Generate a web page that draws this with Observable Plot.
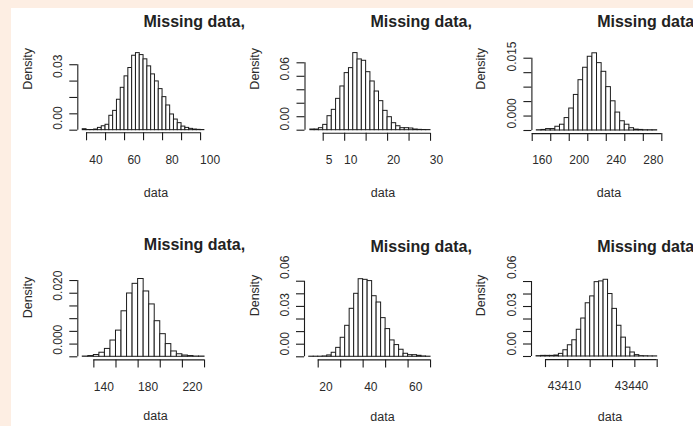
<!DOCTYPE html>
<html><head><meta charset="utf-8">
<script src="https://cdn.jsdelivr.net/npm/d3@7"></script>
<script src="https://cdn.jsdelivr.net/npm/@observablehq/plot@0.6"></script>
<style>
html,body{margin:0;padding:0;background:#fdeee3;}
#wrap{position:relative;width:693px;height:426px;background:#fdeee3;overflow:hidden;}
#inner{position:absolute;left:11px;top:8px;right:0;bottom:0;background:#ffffff;}
#wrap svg{position:absolute;left:0;top:0;}
</style></head><body><div id="wrap"><div id="inner"></div></div>
<script>
// ---- data ----
const panelTitle = "Missing data,";
const xAxisTitle = "data";
const yAxisTitle = "Density";

// histogram bin lower edges and bin widths
const p1Width = 2, p1Lower = d3.range(38, 102, p1Width);
const p2Width = 1, p2Lower = d3.range(2, 30, p2Width);
const p3Width = 5, p3Lower = d3.range(165, 295, p3Width);
const p4Width = 5, p4Lower = d3.range(130, 240, p4Width);
const p5Width = 2, p5Lower = d3.range(16, 70, p5Width);
const p6Width = 2, p6Lower = d3.range(43396, 43450, p6Width);

// densities
const p1Density = [0.0006,0.0001,0.0001,0.0004,0.0014,0.0024,0.0033,0.0088,0.0118,0.0186,0.0259,0.0329,0.0380,0.0455,0.0471,0.0459,0.0433,0.0390,0.0341,0.0298,0.0251,0.0202,0.0151,0.0096,0.0065,0.0043,0.0022,0.0014,0.0008,0.0004,0.0002,0.0001];
const p2Density = [0.0010,0.0010,0.0030,0.0079,0.0208,0.0302,0.0465,0.0649,0.0847,0.0921,0.1144,0.1050,0.1030,0.0861,0.0723,0.0574,0.0431,0.0287,0.0193,0.0104,0.0059,0.0030,0.0030,0.0025,0.0010,0.0005,0.0003,0.0002];
const p3Density = [0.0001,0.0002,0.0005,0.0005,0.0013,0.0020,0.0043,0.0076,0.0123,0.0174,0.0217,0.0255,0.0267,0.0233,0.0203,0.0150,0.0101,0.0062,0.0032,0.0020,0.0008,0.0003,0.0002,0.0001,0.0001,0.0001];
const p4Density = [0.0001,0.0003,0.0007,0.0016,0.0031,0.0064,0.0103,0.0179,0.0249,0.0287,0.0306,0.0257,0.0206,0.0140,0.0089,0.0050,0.0021,0.0010,0.0005,0.0003,0.0001,0.0001];
const p5Density = [0.0001,0.0001,0.0001,0.0003,0.0011,0.0032,0.0071,0.0151,0.0246,0.0381,0.0500,0.0616,0.0611,0.0601,0.0481,0.0431,0.0307,0.0220,0.0130,0.0093,0.0056,0.0024,0.0013,0.0013,0.0008,0.0003,0.0001];
const p6Density = [0.0003,0.0005,0.0005,0.0005,0.0008,0.0021,0.0050,0.0090,0.0130,0.0214,0.0304,0.0426,0.0481,0.0595,0.0601,0.0614,0.0500,0.0381,0.0246,0.0151,0.0071,0.0032,0.0011,0.0003,0.0002,0.0001,0.0001];

// axis ticks
const p1XTicks = [40,50,60,70,80,90,100], p1YTicks = [0,0.01,0.02,0.03,0.04];
const p2XTicks = [5,10,15,20,25,30], p2YTicks = [0,0.02,0.04,0.06,0.08,0.10];
const p3XTicks = [160,180,200,220,240,260,280,300], p3YTicks = [0,0.005,0.010,0.015,0.020,0.025];
const p4XTicks = [140,160,180,200,220,240], p4YTicks = [0,0.005,0.010,0.015,0.020,0.025,0.030];
const p5XTicks = [20,30,40,50,60,70], p5YTicks = [0,0.01,0.02,0.03,0.04,0.05,0.06];
const p6XTicks = [43400,43410,43420,43430,43440,43450], p6YTicks = [0,0.01,0.02,0.03,0.04,0.05,0.06];

// tick labels as printed
const p1XLabels = [40,60,80,100], p1YLabels = ["0.00","0.03"], p1YLabelAt = [0.0074,0.039];
const p2XLabels = [5,10,20,30], p2YLabels = ["0.00","0.06"], p2YLabelAt = [0.0169,0.091];
const p3XLabels = [160,200,240,280], p3YLabels = ["0.000","0.015"], p3YLabelAt = [0.0059,0.0256];
const p4XLabels = [140,180,220], p4YLabels = ["0.000","0.020"], p4YLabelAt = [0.0067,0.028];
const p5XLabels = [20,40,60], p5YLabels = ["0.00","0.03","0.06"], p5YLabelAt = [0.0103,0.0413,0.0711];
const p6XLabels = [43410,43440], p6YLabels = ["0.00","0.03","0.06"], p6YLabelAt = [0.0102,0.0414,0.0714];

// ---- layout (pixels) ----
const W = 693, H = 426;
const panels = [
  {lower:p1Lower, w:p1Width, dens:p1Density, xt:p1XTicks, yt:p1YTicks, xl:p1XLabels, yl:p1YLabels, yla:p1YLabelAt,
   xDom:[35.4,104.7], yDom:[-0.0016,0.0487], L:77.3, R:209, T:50, B:132.3, xlDx:9.5,
   title:[143,21], xt2:[155.5,192], yt2:[27.5,68.3]},
  {lower:p2Lower, w:p2Width, dens:p2Density, xt:p2XTicks, yt:p2YTicks, xl:p2XLabels, yl:p2YLabels, yla:p2YLabelAt,
   xDom:[0.76,31.16], yDom:[-0.0046,0.119], L:304.5, R:435, T:49.5, B:132.8, xlDx:6,
   title:[370,21], xt2:[382.5,192], yt2:[254,68.3]},
  {lower:p3Lower, w:p3Width, dens:p3Density, xt:p3XTicks, yt:p3YTicks, xl:p3XLabels, yl:p3YLabels, yla:p3YLabelAt,
   xDom:[159.66,300.2], yDom:[-0.00107,0.02777], L:531.4, R:661.5, T:49.7, B:133.1, xlDx:10,
   title:[596.7,21], xt2:[608.5,192], yt2:[480.5,68.3]},
  {lower:p4Lower, w:p4Width, dens:p4Density, xt:p4XTicks, yt:p4YTicks, xl:p4XLabels, yl:p4YLabels, yla:p4YLabelAt,
   xDom:[125.5,244.4], yDom:[-0.00122,0.03182], L:77.3, R:208.9, T:275.4, B:359.4, xlDx:10,
   title:[143.3,244], xt2:[155,415.5], yt2:[27.5,297]},
  {lower:p5Lower, w:p5Width, dens:p5Density, xt:p5XTicks, yt:p5YTicks, xl:p5XLabels, yl:p5YLabels, yla:p5YLabelAt,
   xDom:[13.9,72.16], yDom:[-0.00246,0.06406], L:304, R:434.9, T:275.6, B:359.4, xlDx:7.7,
   title:[370,246], xt2:[382,416], yt2:[254,295]},
  {lower:p6Lower, w:p6Width, dens:p6Density, xt:p6XTicks, yt:p6YTicks, xl:p6XLabels, yl:p6YLabels, yla:p6YLabelAt,
   xDom:[43393.73,43452.16], yDom:[-0.00248,0.06386], L:531, R:661.5, T:276.2, B:359.1, xlDx:-3.3,
   title:[596.7,246], xt2:[609.5,416], yt2:[480.5,295]}
];

const ink = "#1c1c1c", txt = "#2b2b2b";
const font = "'Liberation Sans', Arial, Helvetica, sans-serif";
const wrap = document.getElementById("wrap");
const mid = {textAnchor: "middle", lineAnchor: "middle", fontFamily: font};

for (const p of panels) {
  const rows = p.lower.map((x, i) => ({x1: x, x2: x + p.w, d: p.dens[i]}));
  const svg = Plot.plot({
    width: W, height: H,
    marginLeft: p.L, marginRight: W - p.R, marginTop: p.T, marginBottom: H - p.B,
    x: {domain: p.xDom, axis: null, label: null},
    y: {domain: p.yDom, axis: null, label: null},
    style: {background: "transparent", overflow: "visible", fontFamily: font},
    marks: [
      Plot.rect(rows, {x1: "x1", x2: "x2", y1: () => 0, y2: "d", fill: "white", stroke: ink, strokeWidth: 1}),
      Plot.ruleX([p.xDom[0]], {y1: p.yt[0], y2: p.yt[p.yt.length - 1], stroke: ink, strokeWidth: 1.1}),
      Plot.ruleY([p.yDom[0]], {x1: p.xt[0], x2: p.xt[p.xt.length - 1], stroke: ink, strokeWidth: 1.1}),
      Plot.axisY(p.yt, {anchor: "left", tickSize: 8, fill: "none", stroke: ink, strokeWidth: 1.1, label: null}),
      Plot.axisX(p.xt, {anchor: "bottom", tickSize: 8, fill: "none", stroke: ink, strokeWidth: 1.1, label: null}),
      Plot.text(p.xl, {...mid, x: d => d, text: d => String(d), frameAnchor: "bottom", dy: 27, dx: p.xlDx,
        fontSize: 12, fill: txt}),
      Plot.text(p.yla, {...mid, y: d => d, text: (d, i) => p.yl[i], frameAnchor: "left", dx: -19.5, rotate: -90,
        fontSize: 12, fill: txt}),
      Plot.text([panelTitle], {...mid, text: d => d, frameAnchor: "top-left", dx: p.title[0] - p.L, dy: p.title[1] - p.T,
        textAnchor: "start", fontSize: 16, fontWeight: "bold", fill: "#222"}),
      Plot.text([xAxisTitle], {...mid, text: d => d, frameAnchor: "top-left", dx: p.xt2[0] - p.L, dy: p.xt2[1] - p.T,
        fontSize: 12.5, fill: txt}),
      Plot.text([yAxisTitle], {...mid, text: d => d, frameAnchor: "top-left", dx: p.yt2[0] - p.L, dy: p.yt2[1] - p.T,
        rotate: -90, fontSize: 12.5, fill: txt})
    ]
  });
  wrap.appendChild(svg);
}
</script>
</body></html>
